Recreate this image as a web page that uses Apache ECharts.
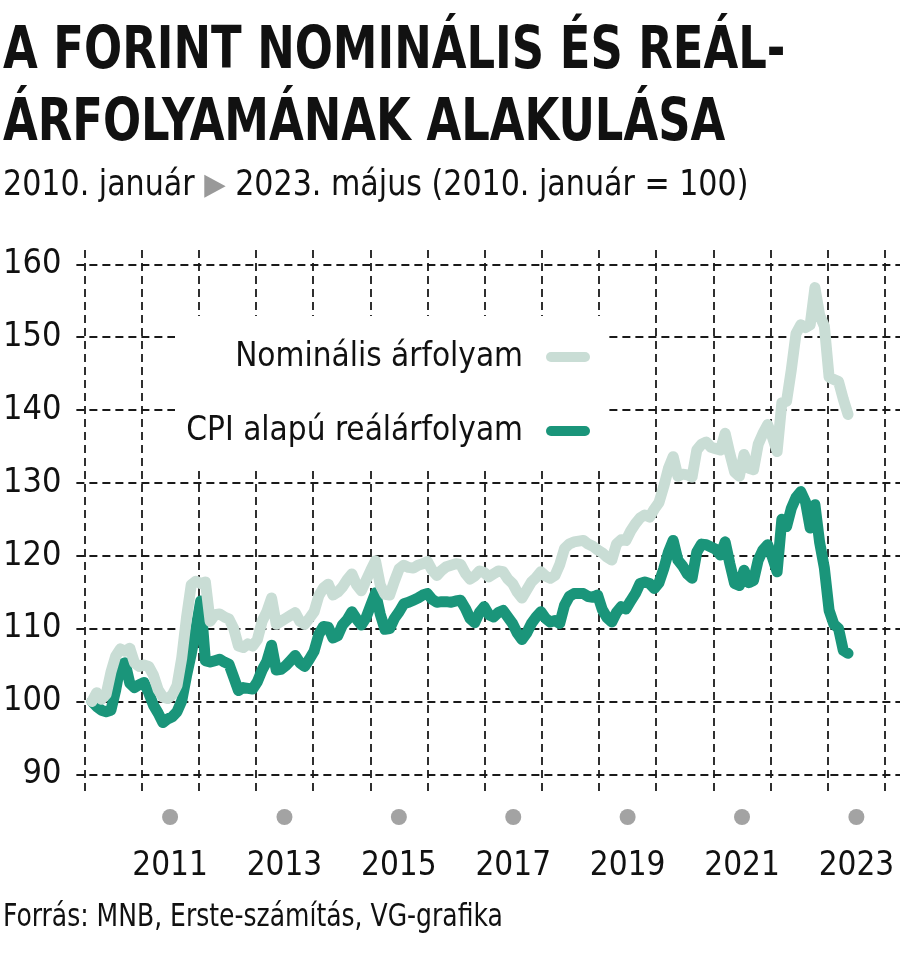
<!DOCTYPE html>
<html><head><meta charset="utf-8">
<script src="https://cdn.jsdelivr.net/npm/echarts@6/dist/echarts.min.js"></script>
<style>html,body{margin:0;padding:0;background:#fff}#c{width:900px;height:960px}</style>
</head><body><div id="c"></div>
<script>
// ---- data ----
const years = ['2010','2011','2012','2013','2014','2015','2016','2017','2018','2019','2020','2021','2022','2023'];
const yTicks = [90, 100, 110, 120, 130, 140, 150, 160];
const nominal = [
100.0,101.2,100.3,101.0,104.0,106.2,107.2,106.9,107.3,105.3,104.8,105.0,
104.8,103.6,101.6,100.6,100.4,100.9,102.2,106.0,111.5,116.0,116.5,116.2,
116.4,111.0,111.9,112.0,111.6,111.3,110.0,107.6,107.4,107.9,107.6,108.5,
111.0,112.3,114.2,110.6,111.0,111.4,111.8,112.2,111.0,110.6,111.4,112.3,
114.5,115.6,116.1,114.6,115.0,115.7,116.7,117.5,116.0,115.2,116.6,118.0,
119.3,116.0,114.7,114.6,116.5,118.2,118.7,118.4,118.3,118.7,118.9,119.2,
118.0,117.3,118.0,118.5,118.7,118.9,118.8,117.6,116.8,117.2,117.9,117.7,
117.1,117.5,117.9,117.8,116.8,116.2,115.0,114.2,115.3,116.4,117.0,117.8,
117.2,116.9,117.3,118.8,121.0,121.6,121.9,122.0,122.1,121.6,121.3,120.8,
120.4,119.8,119.4,121.6,122.2,122.1,123.4,124.4,125.2,125.6,125.3,126.4,
127.3,129.5,132.0,133.6,130.9,131.2,131.1,130.8,134.5,135.3,135.6,134.9,
134.7,134.5,136.8,134.0,131.5,130.9,133.9,132.0,131.8,135.3,136.8,138.0,
136.3,134.3,141.0,141.2,145.5,150.5,151.7,151.3,151.7,156.8,153.0,151.5,
144.5,144.2,143.9,141.5,139.4
];
const real = [
100.0,99.3,98.8,98.6,98.8,101.5,105.0,105.3,102.5,101.9,102.3,102.6,
101.2,99.5,98.4,97.1,97.6,97.9,98.6,100.1,103.5,106.5,110.0,113.8,
105.6,105.4,105.6,105.8,105.4,105.1,103.3,101.5,101.9,101.8,101.7,102.7,
104.3,105.5,107.7,104.3,104.4,104.9,105.6,106.3,105.3,104.8,105.8,106.9,
109.2,110.3,110.2,108.7,109.0,110.5,111.2,112.3,111.3,110.5,111.5,113.2,
114.9,112.0,109.9,110.0,111.4,112.3,113.4,113.6,113.9,114.2,114.6,114.8,
114.0,113.6,113.7,113.7,113.6,113.8,113.9,112.8,111.4,110.8,112.2,113.0,
111.9,111.6,112.2,112.5,111.6,110.7,109.4,108.5,109.4,110.7,111.6,112.3,
111.4,110.9,111.1,110.7,113.2,114.4,114.8,114.8,114.8,114.4,114.3,114.6,
112.6,111.5,110.9,112.2,113.0,112.7,113.8,114.8,116.2,116.4,116.2,115.5,
116.3,118.2,120.5,122.1,119.4,118.6,117.5,116.9,120.5,121.6,121.5,121.2,
120.9,120.1,121.9,118.9,116.2,115.9,118.0,116.3,116.6,119.4,120.8,121.5,
119.8,117.8,125.0,124.0,126.5,128.0,128.8,127.4,123.8,127.0,121.8,118.3,
112.5,110.6,110.0,107.0,106.6
];
const months = [];
for (let i = 0; i < nominal.length; i++) {
  const y = 2010 + Math.floor(i / 12), m = (i % 12) + 1;
  months.push(y + '-' + (m < 10 ? '0' : '') + m);
}
const NAME_NOM = 'Nominális árfolyam';
const NAME_REAL = 'CPI alapú reálárfolyam';
const TITLE_1 = 'A FORINT NOMINÁLIS ÉS REÁL-';
const TITLE_2 = 'ÁRFOLYAMÁNAK ALAKULÁSA';
const SUBTITLE = '2010. január {t|▶} 2023. május (2010. január = 100)';
const SOURCE = 'Forrás: MNB, Erste-számítás, VG-grafika';

// ---- style ----
const FONT = '"Liberation Sans Narrow", "DejaVu Sans Condensed", sans-serif';
const LIGHT = '#c9ddd5';
const DARK = '#1a957a';
const GRID_LINE = { color: '#1a1a1a', width: 1.8, type: [8, 5] };

const chart = echarts.init(document.getElementById('c'), null, { renderer: 'canvas' });
chart.setOption({
  animation: false,
  backgroundColor: '#fff',
  textStyle: { fontFamily: FONT },
  legend: [
    { data: [NAME_NOM], right: 310, top: 337, orient: 'horizontal', align: 'right', padding: 0,
      itemWidth: 44, itemHeight: 11, icon: 'path://M5,0H39A5,5,0,0,1,39,10H5A5,5,0,0,1,5,0Z',
      textStyle: { fontFamily: FONT, fontSize: 33, lineHeight: 40, color: '#111', padding: [0, 18, 0, 0] } },
    { data: [NAME_REAL], right: 310, top: 411, orient: 'horizontal', align: 'right', padding: 0,
      itemWidth: 44, itemHeight: 11, icon: 'path://M5,0H39A5,5,0,0,1,39,10H5A5,5,0,0,1,5,0Z',
      textStyle: { fontFamily: FONT, fontSize: 33, lineHeight: 40, color: '#111', padding: [0, 18, 0, 0] } }
  ],
  graphic: [
    { type: 'rect', z: 1, silent: true, shape: { x: 175, y: 316, width: 431, height: 154 }, style: { fill: '#fff' } },
    { type: 'text', x: 3, y: 17, scaleX: 0.86, silent: true,
      style: { text: TITLE_1 + '\n' + TITLE_2, fontFamily: FONT, fontSize: 58, fontWeight: 'bold', lineHeight: 72,
        fill: '#111', textVerticalAlign: 'top' } },
    { type: 'text', x: 3, y: 168, scaleX: 0.93, silent: true,
      style: { text: SUBTITLE, fontFamily: FONT, fontSize: 36, fill: '#111', textVerticalAlign: 'top',
        rich: { t: { fontSize: 30, fill: '#999', fontFamily: 'DejaVu Sans' } } } },
    { type: 'text', x: 3, y: 902, scaleX: 0.87, silent: true,
      style: { text: SOURCE, fontFamily: FONT, fontSize: 32, fill: '#111', textVerticalAlign: 'top' } }
  ],
  grid: [
    { left: 84.3, right: 15, top: 250, bottom: 166 },
    { left: 70, right: 0, top: 264.3, bottom: 185.7 },
    { left: 92, right: 52, top: 264.3, bottom: 185.7 }
  ],
  xAxis: [
    { gridIndex: 0, type: 'category', data: years, boundaryGap: true,
      axisLine: { show: false }, axisTick: { show: false },
      splitLine: { show: true, interval: 0, lineStyle: GRID_LINE },
      axisLabel: { interval: (i) => i % 2 === 1, margin: 15,
        formatter: (v) => '{d| }\n{y|' + v + '}',
        rich: {
          d: { width: 16, height: 16, backgroundColor: '#a3a3a3', borderRadius: 8, fontSize: 1 },
          y: { fontFamily: FONT, fontSize: 33, lineHeight: 82, color: '#111' }
        } } },
    { gridIndex: 1, type: 'value', min: 0, max: 1, show: false },
    { gridIndex: 2, type: 'category', data: months, boundaryGap: false, show: false }
  ],
  yAxis: [
    { gridIndex: 0, type: 'value', min: 0, max: 1, show: false },
    { gridIndex: 1, type: 'value', min: yTicks[0], max: yTicks[yTicks.length - 1], interval: 10,
      axisLine: { show: false }, axisTick: { show: false },
      splitLine: { show: true, lineStyle: GRID_LINE },
      axisLabel: { margin: 15, fontFamily: FONT, fontSize: 34, color: '#111' } },
    { gridIndex: 2, type: 'value', min: 90, max: 160, show: false }
  ],
  series: [
    { name: NAME_REAL, type: 'line', xAxisIndex: 2, yAxisIndex: 2, data: real, showSymbol: false, z: 3,
      itemStyle: { color: DARK }, lineStyle: { color: DARK, width: 11, cap: 'round', join: 'round' } },
    { name: NAME_NOM, type: 'line', xAxisIndex: 2, yAxisIndex: 2, data: nominal, showSymbol: false, z: 4,
      itemStyle: { color: LIGHT }, lineStyle: { color: LIGHT, width: 11, cap: 'round', join: 'round' } }
  ]
});
</script></body></html>
